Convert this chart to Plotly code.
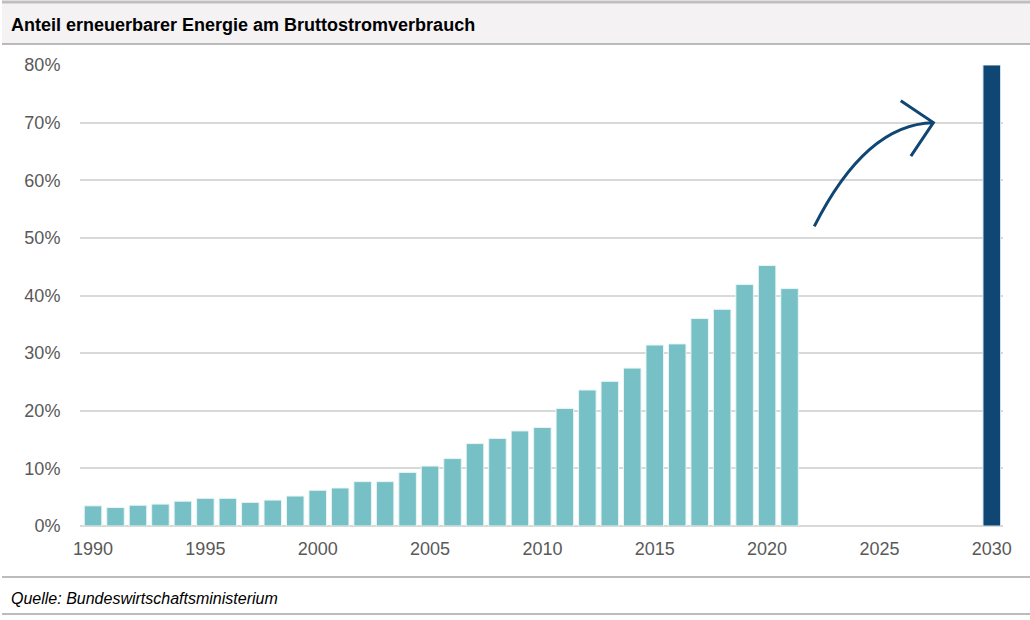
import plotly.graph_objects as go

years = list(range(1990, 2022))
share = [3.5, 3.2, 3.6, 3.8, 4.3, 4.8, 4.8, 4.1, 4.5, 5.2, 6.2, 6.6, 7.7, 7.7, 9.3,
         10.4, 11.7, 14.3, 15.2, 16.5, 17.1, 20.4, 23.6, 25.1, 27.4, 31.4, 31.6,
         36.0, 37.6, 41.9, 45.2, 41.2]
target_year = [2030]
target_share = [80]
x_ticks = [1990, 1995, 2000, 2005, 2010, 2015, 2020, 2025, 2030]
y_ticks = [0, 10, 20, 30, 40, 50, 60, 70, 80]
y_ticklabels = [f"{v}%" for v in y_ticks]

title = "Anteil erneuerbarer Energie am Bruttostromverbrauch"
source = "Quelle: Bundeswirtschaftsministerium"

W, H = 1030, 620
L, R, T, B = 80, 27, 65, 94
PW, PH = W - L - R, H - T - B

def px(x):
    return (x - L) / PW

def py(y):
    return (H - B - y) / PH

FONT = "Liberation Sans, Arial, sans-serif"
TEAL = "#77c0c5"
NAVY = "#0f4674"

fig = go.Figure()
fig.add_trace(go.Bar(x=years, y=share, width=0.78, marker=dict(color=TEAL, line=dict(color="#e8f5f6", width=1)),
                     hoverinfo="x+y"))
fig.add_trace(go.Bar(x=target_year, y=target_share, width=0.78, marker=dict(color=NAVY, line=dict(color="#cfe0ee", width=1)),
                     hoverinfo="x+y"))

# curved arrow (data coordinates)
arrow_start = (2022.1, 52.0)
arrow_ctrl = (2024.4, 69.8)
arrow_end = (2027.4, 70.0)
head_a = (2025.95, 73.8)
head_b = (2026.4, 64.2)
fig.add_shape(type="path", xref="x", yref="y",
              path=f"M {arrow_start[0]},{arrow_start[1]} Q {arrow_ctrl[0]},{arrow_ctrl[1]} {arrow_end[0]},{arrow_end[1]}",
              line=dict(color=NAVY, width=3))
fig.add_shape(type="path", xref="x", yref="y",
              path=f"M {head_a[0]},{head_a[1]} L {arrow_end[0]},{arrow_end[1]} L {head_b[0]},{head_b[1]}",
              line=dict(color=NAVY, width=3))

# title band
fig.add_shape(type="rect", xref="paper", yref="paper", x0=px(2), x1=px(1030), y0=py(44), y1=py(3),
              fillcolor="#f4f2f3", line=dict(width=0), layer="below")
fig.add_shape(type="line", xref="paper", yref="paper", x0=px(2), x1=px(1030), y0=py(2), y1=py(2),
              line=dict(color="#bfbfbf", width=3))
fig.add_shape(type="line", xref="paper", yref="paper", x0=px(2), x1=px(1030), y0=py(44), y1=py(44),
              line=dict(color="#a6a6a6", width=1.5))
# footer lines
fig.add_shape(type="line", xref="paper", yref="paper", x0=px(2), x1=px(1030), y0=py(577), y1=py(577),
              line=dict(color="#a6a6a6", width=1.5))
fig.add_shape(type="line", xref="paper", yref="paper", x0=px(2), x1=px(1030), y0=py(614), y1=py(614),
              line=dict(color="#a6a6a6", width=1.5))

fig.add_annotation(text=f"<b>{title}</b>", xref="paper", yref="paper", x=px(9), y=py(25),
                   xanchor="left", yanchor="middle", showarrow=False,
                   font=dict(family=FONT, size=18, color="#000000"))
fig.add_annotation(text=f"<i>{source}</i>", xref="paper", yref="paper", x=px(9), y=py(598),
                   xanchor="left", yanchor="middle", showarrow=False,
                   font=dict(family=FONT, size=16, color="#000000"))

fig.update_layout(
    width=W, height=H,
    margin=dict(l=L, r=R, t=T, b=B, pad=0),
    plot_bgcolor="white", paper_bgcolor="white",
    barmode="overlay", showlegend=False,
    font=dict(family=FONT, color="#595959", size=18),
)
fig.update_xaxes(range=[1989.42, 2030.5], tickvals=x_ticks, showgrid=False, zeroline=False,
                 showline=False, ticks="outside", ticklen=6, tickcolor="rgba(0,0,0,0)",
                 tickfont=dict(size=18, color="#595959"))
fig.update_yaxes(range=[0, 80], tickvals=y_ticks, ticktext=y_ticklabels, showgrid=True, gridcolor="#d9d9d9",
                 gridwidth=1.5, zeroline=True, zerolinecolor="#d9d9d9", zerolinewidth=1.5,
                 showline=False, ticks="outside", ticklen=15, tickcolor="rgba(0,0,0,0)",
                 tickfont=dict(size=18, color="#595959"))

fig.write_html("out.html", config={"displayModeBar": False},
               post_script="document.body.style.margin='0';document.body.style.padding='0';")
